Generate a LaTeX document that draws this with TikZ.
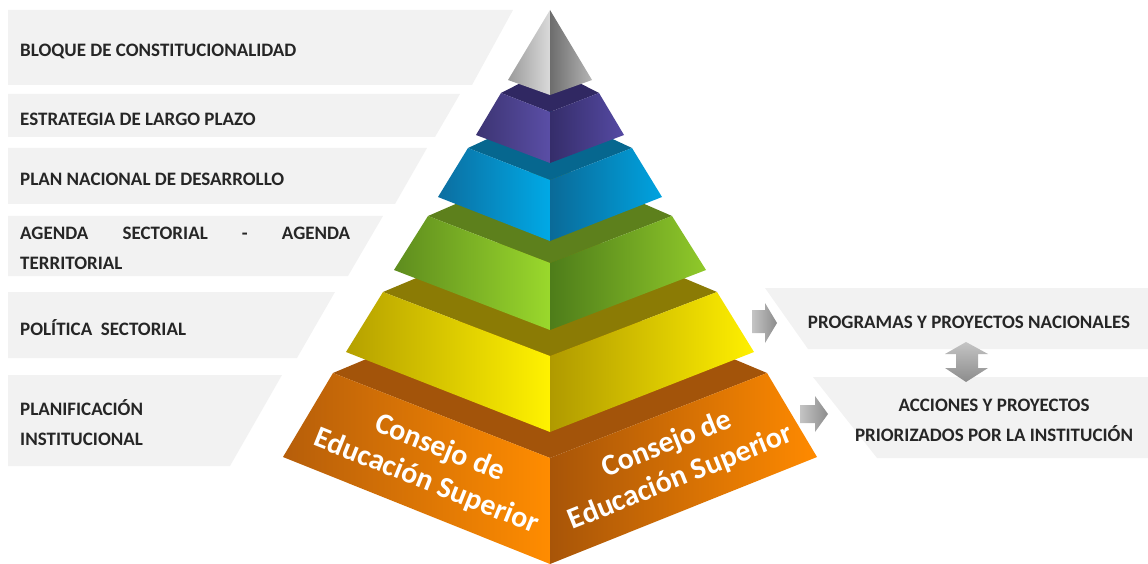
\documentclass[tikz,border=0pt]{standalone}
\usepackage{fontspec}
\setmainfont{Carlito}
\definecolor{band}{HTML}{F2F2F2}
\definecolor{txt}{HTML}{262626}
\definecolor{oLedge}{HTML}{A3540A}\definecolor{oL1}{HTML}{B65E0A}\definecolor{oL2}{HTML}{FF8C00}\definecolor{oR1}{HTML}{A85508}\definecolor{oR2}{HTML}{FF8A00}
\definecolor{yLedge}{HTML}{8B7B05}\definecolor{yL1}{HTML}{B5A000}\definecolor{yL2}{HTML}{FFF200}\definecolor{yR1}{HTML}{B09A00}\definecolor{yR2}{HTML}{FFF000}
\definecolor{gLedge}{HTML}{5D801C}\definecolor{gL1}{HTML}{5E8C1E}\definecolor{gL2}{HTML}{9AD82C}\definecolor{gR1}{HTML}{4E7D1A}\definecolor{gR2}{HTML}{90C92A}
\definecolor{bLedge}{HTML}{06678F}\definecolor{bL1}{HTML}{0C6EA0}\definecolor{bL2}{HTML}{00A9E6}\definecolor{bR1}{HTML}{0A6A98}\definecolor{bR2}{HTML}{00A3E0}
\definecolor{pLedge}{HTML}{302862}\definecolor{pL1}{HTML}{3C3472}\definecolor{pL2}{HTML}{5A4EA6}\definecolor{pR1}{HTML}{352D6A}\definecolor{pR2}{HTML}{554AA3}
\definecolor{tL1}{HTML}{9A9A9A}\definecolor{tL2}{HTML}{DADADA}\definecolor{tR1}{HTML}{6D6D6D}\definecolor{tR2}{HTML}{B5B5B5}
\definecolor{arrL}{HTML}{C4C4C4}\definecolor{arrR}{HTML}{8C8C8C}
% #1 top half-width, #2 top y, #3 top front y, #4 bottom half-width, #5 bottom y, #6 bottom front y, #7 colour prefix
\newcommand\pyrtier[7]{%
  \fill[#7Ledge] (550-#1,#2) -- (550,2*#2-#3-6) -- (550+#1,#2) -- (550,#3) -- cycle;
  \shade[left color=#7L1,right color=#7L2] (550-#1,#2) -- (550,#3) -- (550,#6) -- (550-#4,#5) -- cycle;
  \shade[left color=#7R1,right color=#7R2] (550,#3) -- (550+#1,#2) -- (550+#4,#5) -- (550,#6) -- cycle;
}
\tikzset{
  lbl/.style={font=\bfseries\fontsize{19}{30}\selectfont, text=txt, inner sep=0pt, align=left, anchor=west},
  rlbl/.style={font=\bfseries\fontsize{19}{30}\selectfont, text=txt, inner sep=0pt, align=center},
  cestext/.style={font=\bfseries\fontsize{30}{36}\selectfont, text=white, inner sep=0pt, align=center},
  bandfill/.style={fill=band},
  grayarrow/.style={left color=arrL, right color=arrR},
}
\begin{document}
\begin{tikzpicture}[x=1pt,y=-1pt]
\useasboundingbox (0,0) rectangle (1148,564);
% left bands
\fill[bandfill] (8,10) -- (513,10) -- (472,85) -- (8,85) -- cycle;
\fill[bandfill] (8,94) -- (460,94) -- (435,137) -- (8,137) -- cycle;
\fill[bandfill] (8,148) -- (427,148) -- (395,204) -- (8,204) -- cycle;
\fill[bandfill] (8,216) -- (383,216) -- (348,276) -- (8,276) -- cycle;
\fill[bandfill] (8,292) -- (335,292) -- (297,358) -- (8,358) -- cycle;
\fill[bandfill] (8,375) -- (282,375) -- (230,466) -- (8,466) -- cycle;
% right bands
\fill[bandfill] (765,288) -- (1148,288) -- (1148,349) -- (808,349) -- cycle;
\fill[bandfill] (813,377) -- (1148,377) -- (1148,458) -- (877,458) -- cycle;
% pyramid tiers (bottom to top)
\pyrtier{217}{373}{458}{267}{457}{564}{o}
\pyrtier{167}{292}{356}{204}{352}{432}{y}
\pyrtier{122}{216}{263}{156}{270}{330}{g}
\pyrtier{82}{148}{180}{112}{197}{241}{b}
\pyrtier{49}{93}{112}{74}{135}{163}{p}
% top
\shade[left color=tL1,right color=tL2] (550,10) -- (508,80) -- (550,95) -- cycle;
\shade[left color=tR1,right color=tR2] (550,10) -- (550,95) -- (592,80) -- cycle;
% arrows
\shade[grayarrow] (752,310) -- (765,310) -- (765,303) -- (777,323) -- (765,343) -- (765,333) -- (752,333) -- cycle;
\shade[grayarrow] (800,405) -- (815,405) -- (815,396) -- (828,414) -- (815,432) -- (815,423) -- (800,423) -- cycle;
\shade[top color=arrL, bottom color=arrR] (966,342) -- (988,354) -- (978,354) -- (978,368) -- (988,368) -- (966,382) -- (945,368) -- (956,368) -- (956,354) -- (945,354) -- cycle;
% left labels
\node[lbl] (l1) at (20,51) {BLOQUE DE CONSTITUCIONALIDAD};
\node[lbl] (l2) at (20,119) {ESTRATEGIA DE LARGO PLAZO};
\node[lbl] (l3) at (20,179) {PLAN NACIONAL DE DESARROLLO};
\node[lbl] (l4) at (20,248) {\hbox to 330pt{AGENDA\hfill SECTORIAL\hfill -\hfill AGENDA}\\TERRITORIAL};
\node[lbl] (l5) at (20,328) {POLÍTICA\ \ SECTORIAL};
\node[lbl] (l6) at (20,423) {PLANIFICACIÓN\\INSTITUCIONAL};
% right labels
\node[rlbl] (r1) at (969,322) {PROGRAMAS Y PROYECTOS NACIONALES};
\node[rlbl] (r2) at (994,420) {ACCIONES Y PROYECTOS\\PRIORIZADOS POR LA INSTITUCIÓN};
% orange texts
\node[cestext, rotate=-21.8] (c1) at (433,465) {Consejo de\\Educación Superior};
\node[cestext, rotate=21.8] (c2) at (674,461) {Consejo de\\Educación Superior};
\end{tikzpicture}
\end{document}
